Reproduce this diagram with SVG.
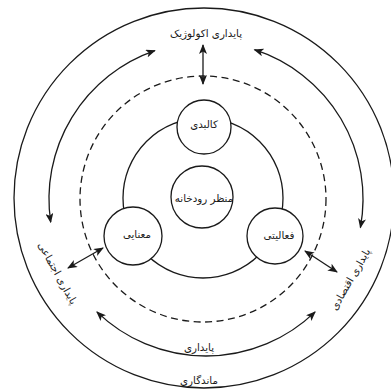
<svg xmlns="http://www.w3.org/2000/svg" width="391" height="392" viewBox="0 0 391 392">
<style>
.ln{fill:none;stroke:#1a1a1a;stroke-width:1.3}
.nd{fill:#fff;stroke:#1a1a1a;stroke-width:1.3}
.dash{fill:none;stroke:#1a1a1a;stroke-width:1.3;stroke-dasharray:7 4.5}
.ar{marker-start:url(#ah);marker-end:url(#ah)}
text{font-family:"DejaVu Sans","Noto Sans",sans-serif;font-size:10.3px;fill:#1a1a1a;text-anchor:middle;dominant-baseline:central}
</style>
<defs>
<marker id="ah" viewBox="0 0 10 8" refX="9" refY="4" markerWidth="10" markerHeight="8" markerUnits="userSpaceOnUse" orient="auto-start-reverse">
<path d="M0,0 L10,4 L0,8 L2.5,4 z" fill="#1a1a1a"/>
</marker>
</defs>
<rect width="391" height="392" fill="#fff"/>
<g id="rings">
<circle class="ln" cx="204" cy="198" r="190"/>
<circle class="dash" cx="203" cy="199" r="123"/>
<circle class="ln" cx="203" cy="198" r="80"/>
</g>
<g id="connectors">
<path class="ln ar" d="M154.9,50.6 A157,157 0 0 0 50.7,222.2"/>
<path class="ln ar" d="M254.5,49.7 A157,157 0 0 1 360.4,227.6"/>
<path class="ln ar" d="M96.9,311.9 A157,157 0 0 0 315.1,311.9"/>
<line class="ln ar" x1="203" y1="45" x2="203" y2="84"/>
<line class="ln ar" x1="68" y1="268" x2="103" y2="248"/>
<line class="ln ar" x1="305" y1="251" x2="337" y2="272"/>
</g>
<g id="center"><circle class="nd" cx="202" cy="197" r="31"/><text x="204" y="198">منظر رودخانه</text></g>
<g id="kalbadi"><circle class="nd" cx="204" cy="127" r="27"/><text x="204" y="124">کالبدی</text></g>
<g id="manayi"><circle class="nd" cx="133" cy="236" r="29"/><text x="137" y="234">معنایی</text></g>
<g id="faaliyati"><circle class="nd" cx="275" cy="236" r="28"/><text x="279" y="235">فعالیتی</text></g>
<g id="ecological"><text x="206" y="33">پایداری اکولوژیک</text></g>
<g id="social"><text transform="translate(58,273) rotate(61)">پایداری اجتماعی</text></g>
<g id="economic"><text transform="translate(350,279) rotate(-60)">پایداری اقتصادی</text></g>
<g id="sustain"><text x="199" y="347">پایداری</text></g>
<g id="durability"><text x="199" y="380">ماندگاری</text></g>
</svg>
